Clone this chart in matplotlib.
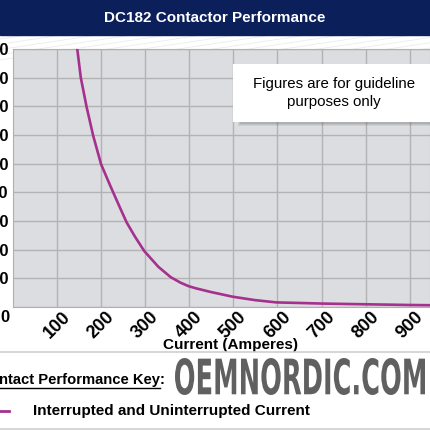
import matplotlib.pyplot as plt
from matplotlib.patches import Rectangle, PathPatch
from matplotlib.textpath import TextPath
from matplotlib.font_manager import FontProperties
from matplotlib.transforms import Affine2D, ScaledTranslation
from matplotlib.lines import Line2D

plt.rcParams['font.family'] = ['Liberation Sans', 'DejaVu Sans']

# curve (current in A, value in grid units)
current = [140, 146, 154, 167, 182, 200, 220, 228, 243, 258, 277, 298, 330, 358, 380,
           398, 413, 447, 498, 549, 598, 651, 700, 800, 900, 960]
value = [980, 900, 800, 699, 598, 498, 426, 398, 346, 295, 245, 195, 140, 104, 85,
         73, 66, 53, 36, 24, 16, 14, 12, 9.5, 7, 6]

x_ticks = [100, 200, 300, 400, 500, 600, 700, 800, 900]
y_ticks = [0, 100, 200, 300, 400, 500, 600, 700, 800, 900]
y_labels = ['', '100', '200', '300', '400', '500', '600', '700', '800', '900']

W = H = 430
fig = plt.figure(figsize=(4.3, 4.3), dpi=100)
fig.patch.set_facecolor('white')

def px(x, y):
    return x / W, 1 - y / H

# title bar
fig.patches.append(Rectangle(px(0, 35), 1, 35 / H, transform=fig.transFigure,
                             color='#0b1f5b', zorder=0))
fig.text(0.5, 1 - 18 / H, 'DC182 Contactor Performance', color='white',
         fontsize=11, fontweight='bold', ha='center', va='center')

# faint diagonal background lines
for k in range(-10, 16):
    x0 = k * 35
    fig.add_artist(Line2D([x0 / W, (x0 + 200) / W], [1 - 60 / H, 1 - 30 / H],
                          transform=fig.transFigure, color='#ececec', lw=0.6, zorder=0))

ax = fig.add_axes([12.9 / W, 1 - 307 / H, 1 - 12.9 / W, 258 / H])
ax.set_facecolor('#dcdde0')
ax.plot(current, value, color='#a5308e', lw=1.9, zorder=3, solid_capstyle='butt',
        solid_joinstyle='round')
ax.set_xlim(0, 946)
ax.set_ylim(0, 900)
ax.set_xticks(x_ticks)
ax.set_xticklabels([str(t) for t in x_ticks], rotation=45, fontweight='bold',
                   fontsize=13, ha='center', va='top')
shift = ScaledTranslation(-5 / 100, 0, fig.dpi_scale_trans)
for lab in ax.get_xticklabels():
    lab.set_transform(lab.get_transform() + shift)
ax.set_yticks(y_ticks)
ax.set_yticklabels(y_labels, fontweight='bold', fontsize=12)
ax.tick_params(length=0, pad=3)
ax.tick_params(axis='x', pad=1)
ax.grid(True, color='#b3b3b3', lw=1.0)
ax.set_axisbelow(True)
for s in ax.spines.values():
    s.set_color('#b0b0b0')
ax.set_xlabel('Current (Amperes)', fontsize=11, fontweight='bold')
ax.xaxis.set_label_coords((230 - 12.9) / (W - 12.9), -31 / 258)
fig.text(5 / W, 1 - 318 / H, '0', fontsize=12, fontweight='bold', ha='center', va='center')

# note box with shadow
for i, a in enumerate([0.10, 0.12, 0.15]):
    fig.patches.append(Rectangle(px(238 + i, 126 - i), 1, 58 / H, transform=fig.transFigure,
                                 color='#555555', alpha=a, zorder=4, lw=0))
fig.patches.append(Rectangle(px(233, 122), 1, 58 / H, transform=fig.transFigure,
                             color='white', zorder=5, lw=0))
fig.text(334 / W, 1 - 93 / H, 'Figures are for guideline\npurposes only', fontsize=10.8,
         ha='center', va='center', zorder=6, linespacing=1.3)

# key area
for yy in (352, 429):
    fig.add_artist(Line2D([0, 1], [1 - yy / H] * 2, transform=fig.transFigure,
                          color='#d0d0d0', lw=1.2))
key = fig.text(-1 / W, 1 - 380 / H, 'ntact Performance Key', fontsize=10.6,
               fontweight='bold', ha='left', va='center')
fig.canvas.draw()
bb = key.get_window_extent()
fig.text(bb.x1 / W, 1 - 380 / H, ':', fontsize=10.6, fontweight='bold', ha='left', va='center')
fig.add_artist(Line2D([bb.x0 / W, bb.x1 / W], [1 - 388 / H] * 2, transform=fig.transFigure,
                      color='black', lw=1.0))
fig.add_artist(Line2D([0, 9 / W], [1 - 411 / H] * 2, transform=fig.transFigure,
                      color='#a5308e', lw=2.0))
fig.text(33 / W, 1 - 411 / H, 'Interrupted and Uninterrupted Current', fontsize=11,
         fontweight='bold', ha='left', va='center')

# watermark
fp = FontProperties(family='DejaVu Sans', weight='bold')
tp = TextPath((0, 0), 'OEMNORDIC.COM', size=40, prop=fp)
ext = tp.get_extents()
sx = 250 / ext.width
sy = 37 / ext.height
tr = Affine2D().translate(-ext.x0, -ext.y0).scale(sx, sy).translate(175, H - 395)
patch = PathPatch(tr.transform_path(tp), color='#444444', alpha=0.85, lw=0,
                  transform=None, zorder=7)
fig.add_artist(patch)

fig.savefig('out.png', dpi=100)
